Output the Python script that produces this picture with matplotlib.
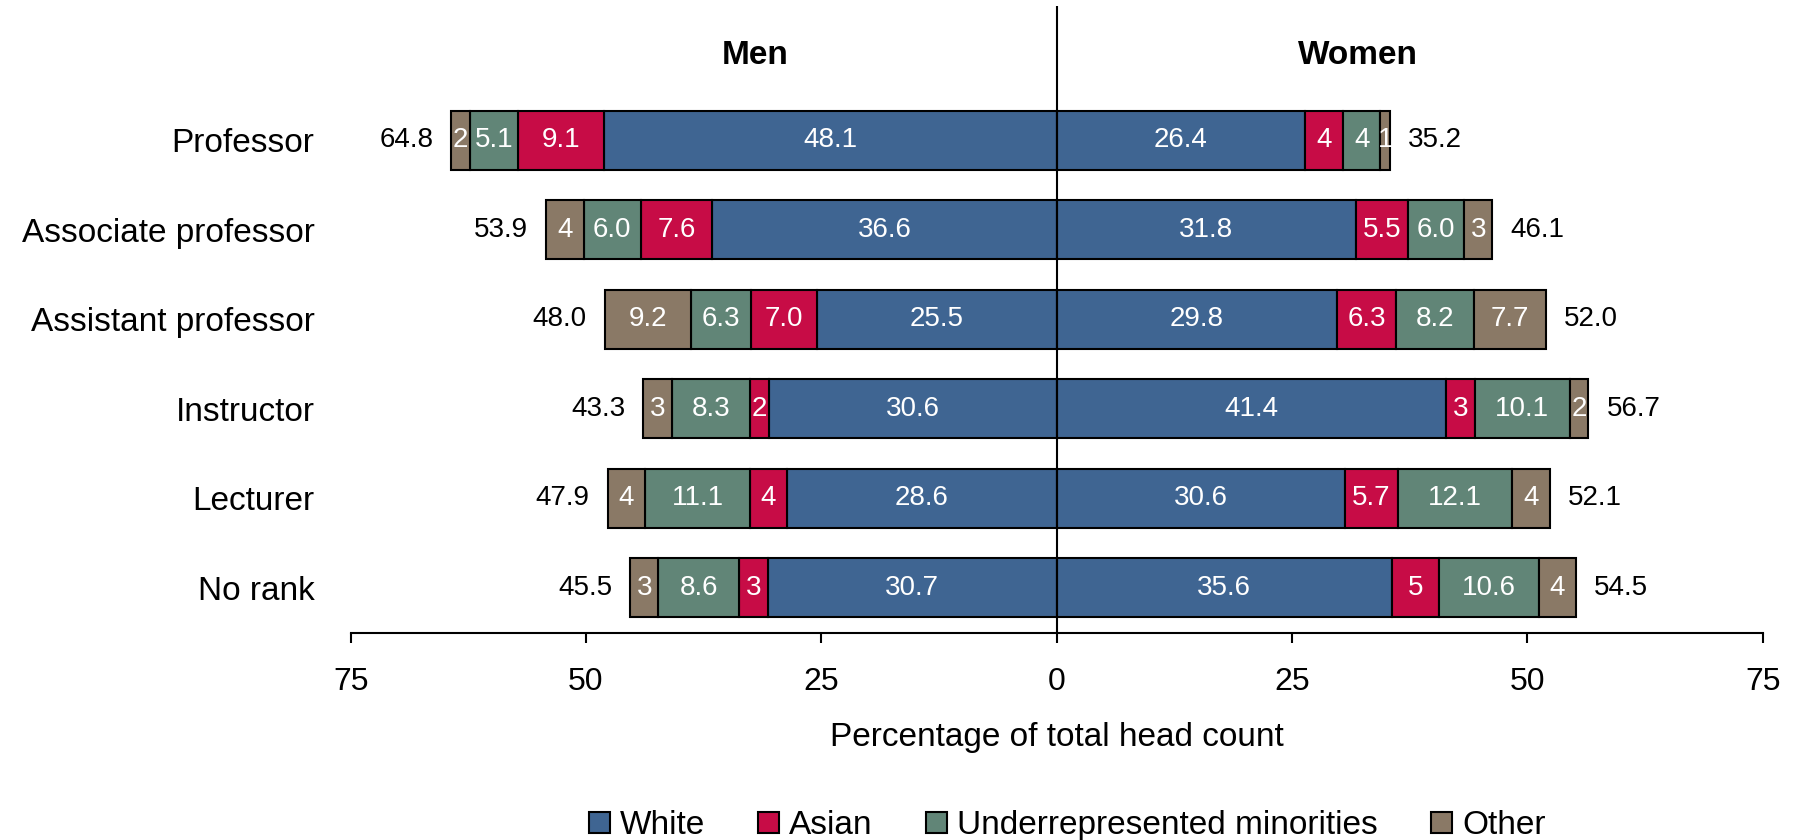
import matplotlib

matplotlib.use("Agg")
import matplotlib.pyplot as plt
import numpy as np

plt.rcParams["font.family"] = ["Liberation Sans", "DejaVu Sans"]

# Share of total head count by rank, split by sex and race/ethnicity
ranks = ["Professor", "Associate professor", "Assistant professor",
         "Instructor", "Lecturer", "No rank"]
groups = ["White", "Asian", "Underrepresented minorities", "Other"]

men_white = [48.1, 36.6, 25.5, 30.6, 28.6, 30.7]
men_asian = [9.1, 7.6, 7.0, 2, 4, 3]
men_urm = [5.1, 6.0, 6.3, 8.3, 11.1, 8.6]
men_other = [2, 4, 9.2, 3, 4, 3]
men_total = [64.8, 53.9, 48.0, 43.3, 47.9, 45.5]

women_white = [26.4, 31.8, 29.8, 41.4, 30.6, 35.6]
women_asian = [4, 5.5, 6.3, 3, 5.7, 5]
women_urm = [4, 6.0, 8.2, 10.1, 12.1, 10.6]
women_other = [1, 3, 7.7, 2, 4, 4]
women_total = [35.2, 46.1, 52.0, 56.7, 52.1, 54.5]

colors = ["#3F6592", "#C70C46", "#618577", "#8A7966"]


def fmt(v):
    # whole numbers are shown without a decimal on the narrow segments
    return str(v) if isinstance(v, int) else f"{v:.1f}"


fig = plt.figure(figsize=(18.01, 8.4), dpi=100)
ax = fig.add_axes([0.1947, 0.2468, 0.7840, 0.7461])
y = np.arange(len(ranks))

sides = [
    (-1, [men_white, men_asian, men_urm, men_other], men_total),
    (1, [women_white, women_asian, women_urm, women_other], women_total),
]
for sign, series, totals in sides:
    left = np.zeros(len(ranks))
    for name, color, vals in zip(groups, colors, series):
        widths = sign * np.array(vals, dtype=float)
        bars = ax.barh(y, widths, left=left, height=0.66, color=color,
                       edgecolor="black", linewidth=1.5,
                       label=name if sign > 0 else None, zorder=2)
        ax.bar_label(bars, labels=[fmt(v) for v in vals], label_type="center",
                     color="white", fontsize=20)
        left += widths
    for yi, end, t in zip(y, left, totals):
        ax.annotate(f"{t:.1f}", (end, yi), xytext=(sign * 13, 0),
                    textcoords="offset points", va="center",
                    ha="left" if sign > 0 else "right", fontsize=20)

ax.axvline(0, color="black", linewidth=1.5, zorder=3)
ax.text(-32, -0.95, "Men", ha="center", va="center", fontsize=24, fontweight="bold")
ax.text(32, -0.95, "Women", ha="center", va="center", fontsize=24, fontweight="bold")

ticks = [-75, -50, -25, 0, 25, 50, 75]
ax.set_xlim(-75, 75)
ax.set_ylim(5.5, -1.5)
ax.set_xticks(ticks, [str(abs(t)) for t in ticks])
ax.set_yticks(y, ranks)
ax.tick_params(axis="y", length=0, pad=26, labelsize=24)
ax.tick_params(axis="x", length=7, width=1.5, pad=18, labelsize=23)
ax.set_xlabel("Percentage of total head count", fontsize=24, labelpad=18)
for s in ["top", "right", "left"]:
    ax.spines[s].set_visible(False)
ax.spines["bottom"].set_linewidth(1.5)

fig.legend(loc="center", bbox_to_anchor=(0.5925, 0.017), ncol=4, frameon=False,
           fontsize=24, handlelength=0.63, handleheight=0.63, handletextpad=0.3,
           columnspacing=1.6, borderpad=0)

fig.savefig("out.png", dpi=100)
